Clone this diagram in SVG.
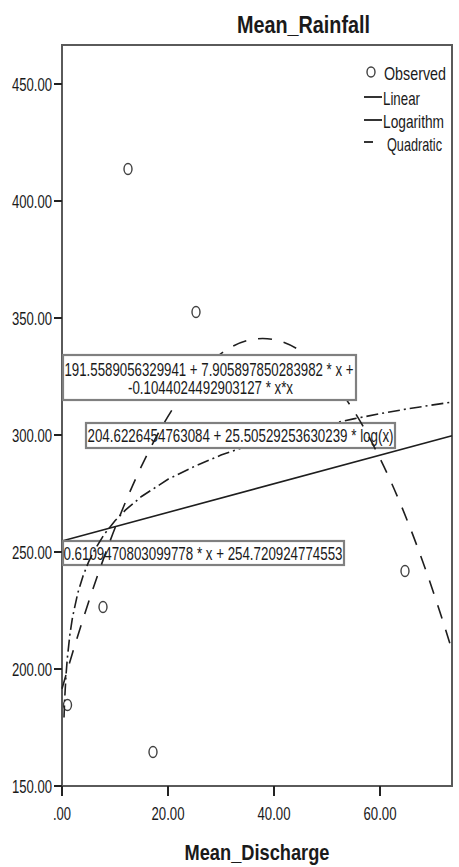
<svg xmlns="http://www.w3.org/2000/svg" width="459" height="867" viewBox="0 0 459 867">
<style>
text{font-family:"Liberation Sans",Arial,sans-serif;fill:#1a1a1a}
.tk{font-size:18.5px}
.yl{text-anchor:end}
.xl{text-anchor:middle}
.lg{font-size:19px}
.eq{font-size:18.5px}
.ttl{font-size:23px;font-weight:bold}
.box{fill:#fff;stroke:#808080;stroke-width:2.2}
.pt{fill:none;stroke:#404040;stroke-width:1.4}
.curve{fill:none;stroke:#1e1e1e;stroke-width:1.6}
.tick{stroke:#222;stroke-width:2}
.lgl{stroke:#1e1e1e;stroke-width:1.8}
</style>
<rect width="459" height="867" fill="#fff"/>
<g id="title"><text class="ttl" x="237" y="33" textLength="133" lengthAdjust="spacingAndGlyphs">Mean_Rainfall</text></g>
<g id="frame">
<rect x="62" y="45" width="390" height="741" fill="none" stroke="#5a5a5a" stroke-width="2"/>
</g>
<g id="y-axis">
<line class="tick" x1="54" y1="84" x2="62" y2="84"/>
<line class="tick" x1="54" y1="201" x2="62" y2="201"/>
<line class="tick" x1="54" y1="318" x2="62" y2="318"/>
<line class="tick" x1="54" y1="435" x2="62" y2="435"/>
<line class="tick" x1="54" y1="552" x2="62" y2="552"/>
<line class="tick" x1="54" y1="669" x2="62" y2="669"/>
<line class="tick" x1="54" y1="786" x2="62" y2="786"/>
<text class="tk yl" x="52" y="90.5" textLength="40" lengthAdjust="spacingAndGlyphs">450.00</text>
<text class="tk yl" x="52" y="207.5" textLength="40" lengthAdjust="spacingAndGlyphs">400.00</text>
<text class="tk yl" x="52" y="324.5" textLength="40" lengthAdjust="spacingAndGlyphs">350.00</text>
<text class="tk yl" x="52" y="441.5" textLength="40" lengthAdjust="spacingAndGlyphs">300.00</text>
<text class="tk yl" x="52" y="558.5" textLength="40" lengthAdjust="spacingAndGlyphs">250.00</text>
<text class="tk yl" x="52" y="675.5" textLength="40" lengthAdjust="spacingAndGlyphs">200.00</text>
<text class="tk yl" x="52" y="792.5" textLength="40" lengthAdjust="spacingAndGlyphs">150.00</text>
</g>
<g id="x-axis">
<line class="tick" x1="62" y1="786" x2="62" y2="796"/>
<line class="tick" x1="168" y1="786" x2="168" y2="796"/>
<line class="tick" x1="274" y1="786" x2="274" y2="796"/>
<line class="tick" x1="380" y1="786" x2="380" y2="796"/>
<text class="tk xl" x="62" y="819.5" textLength="18" lengthAdjust="spacingAndGlyphs">.00</text>
<text class="tk xl" x="168" y="819.5" textLength="33" lengthAdjust="spacingAndGlyphs">20.00</text>
<text class="tk xl" x="274" y="819.5" textLength="33" lengthAdjust="spacingAndGlyphs">40.00</text>
<text class="tk xl" x="380" y="819.5" textLength="33" lengthAdjust="spacingAndGlyphs">60.00</text>
<text class="ttl" x="257" y="860" text-anchor="middle" textLength="145" lengthAdjust="spacingAndGlyphs" style="font-size:21.5px">Mean_Discharge</text>
</g>
<g id="observed">
<ellipse class="pt" cx="128" cy="169" rx="4" ry="5.5"/>
<ellipse class="pt" cx="196" cy="312" rx="4" ry="5.5"/>
<ellipse class="pt" cx="103" cy="607" rx="4" ry="5.5"/>
<ellipse class="pt" cx="67.5" cy="705" rx="4" ry="5.5"/>
<ellipse class="pt" cx="153" cy="752" rx="4" ry="5.5"/>
<ellipse class="pt" cx="405" cy="571" rx="4" ry="5.5"/>
</g>
<g id="connectors">
<line id="linear" class="curve" x1="62" y1="541" x2="452" y2="435.7"/>
<g id="linear-label"><rect class="box" x="63" y="541" width="281" height="24"/><text class="eq" x="63.5" y="559.5" textLength="279" lengthAdjust="spacingAndGlyphs">0.6109470803099778 * x + 254.720924774553</text></g>
<polyline id="logarithm" class="curve" stroke-dasharray="12 4 2 4" points="64,717.5 64.65,699.6 66,675.3 67.3,658.4 69.95,634 72.6,616.8 77.9,592.6 83.2,575.5 88.5,562.1 93.8,551.3 104.4,534.1 115,520.7 125.6,509.9 141.5,496.5 168,479.3 194.5,466.4 221,455.1 247.5,446 274,437.9 300.5,430.9 327,424.6 353.5,418.9 380,413.7 406.5,409 452,402"/>
<g id="logarithm-label"><rect class="box" x="86" y="423" width="309" height="25"/><text class="eq" x="87.5" y="442" textLength="306" lengthAdjust="spacingAndGlyphs">204.6226454763084 + 25.50529253630239 * log(x)</text></g>
<path id="quadratic" class="curve" stroke-dasharray="14 12" d="M62,688.7 Q257,8 452,650.5"/>
<g id="quadratic-label"><rect class="box" x="63" y="355" width="293" height="45"/><text class="eq" x="64.5" y="375.5" textLength="289" lengthAdjust="spacingAndGlyphs">191.5589056329941 + 7.905897850283982 * x +</text><text class="eq" x="128" y="393.5" textLength="165" lengthAdjust="spacingAndGlyphs">-0.1044024492903127 * x*x</text></g>
</g>
<g id="legend">
<ellipse class="pt" cx="371" cy="72" rx="4" ry="5"/>
<text class="lg" x="384" y="80" textLength="62" lengthAdjust="spacingAndGlyphs">Observed</text>
<line class="lgl" x1="364" y1="97" x2="382" y2="97"/>
<text class="lg" x="383" y="104.5" textLength="37" lengthAdjust="spacingAndGlyphs">Linear</text>
<line class="lgl" x1="364" y1="120" x2="382" y2="120"/>
<text class="lg" x="383" y="128" textLength="61" lengthAdjust="spacingAndGlyphs">Logarithm</text>
<line class="lgl" x1="364" y1="142" x2="373" y2="142"/>
<text class="lg" x="387" y="151" textLength="55" lengthAdjust="spacingAndGlyphs">Quadratic</text>
</g>
</svg>
